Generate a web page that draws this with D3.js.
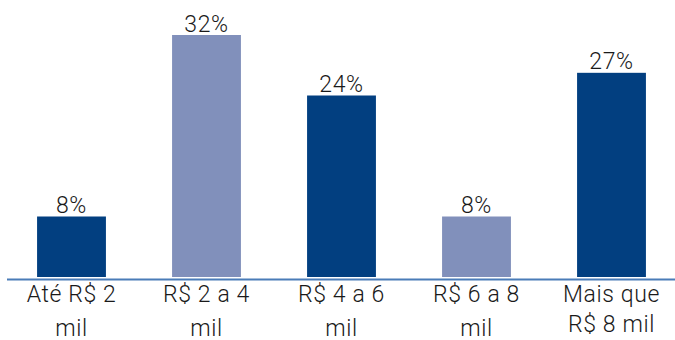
<!DOCTYPE html>
<html>
<head>
<meta charset="utf-8">
<script src="https://cdn.jsdelivr.net/npm/d3@7"></script>
<style>
  html, body { margin: 0; padding: 0; background: #fff; }
  svg text { font-family: Roboto, "Liberation Sans", Arial, sans-serif; font-weight: 300; fill: #1a1a1a; }
</style>
</head>
<body>
<svg id="chart" width="675" height="340"></svg>
<script>
// Faixas de renda e participação (%)
const categories = [
  ["Até R$ 2", "mil"],
  ["R$ 2 a 4", "mil"],
  ["R$ 4 a 6", "mil"],
  ["R$ 6 a 8", "mil"],
  ["Mais que", "R$ 8 mil"]
];
const values = [8, 32, 24, 8, 27];
const valueLabels = ["8%", "32%", "24%", "8%", "27%"];
const barColors = ["#023f80", "#8190bb", "#023f80", "#8190bb", "#023f80"];

const svg = d3.select("#chart");
const baseY = 277;

const x = d3.scaleBand()
  .domain(d3.range(values.length))
  .range([4, 679])
  .paddingInner(0.49)
  .paddingOuter(0.245);

const y = d3.scaleLinear()
  .domain([0, 32])
  .range([baseY, 35]);

// Barras
svg.append("g").selectAll("rect")
  .data(values)
  .join("rect")
  .attr("x", (d, i) => x(i))
  .attr("y", d => y(d))
  .attr("width", x.bandwidth())
  .attr("height", d => baseY - y(d))
  .attr("fill", (d, i) => barColors[i]);

// Rótulos de valor
svg.append("g").selectAll("text")
  .data(values)
  .join("text")
  .attr("x", (d, i) => x(i) + x.bandwidth() / 2)
  .attr("y", d => y(d) - 3.5)
  .attr("text-anchor", "middle")
  .attr("font-size", 23)
  .attr("letter-spacing", 0.6)
  .text((d, i) => valueLabels[i]);

// Linha do eixo
svg.append("line")
  .attr("x1", 7).attr("x2", 675)
  .attr("y1", baseY + 2.5).attr("y2", baseY + 2.5)
  .attr("stroke", "#4a7cb8")
  .attr("stroke-width", 2);

// Rótulos das categorias
const cat = svg.append("g").selectAll("text")
  .data(categories)
  .join("text")
  .attr("text-anchor", "middle")
  .attr("font-size", 23)
  .attr("letter-spacing", 0.6);

cat.each(function(lines, i) {
  const t = d3.select(this);
  const cx = x(i) + x.bandwidth() / 2;
  const gap = i === categories.length - 1 ? 30 : 34;
  lines.forEach((line, j) => {
    t.append("tspan")
      .attr("x", cx)
      .attr("y", 302 + j * gap)
      .text(line);
  });
});
</script>
</body>
</html>
